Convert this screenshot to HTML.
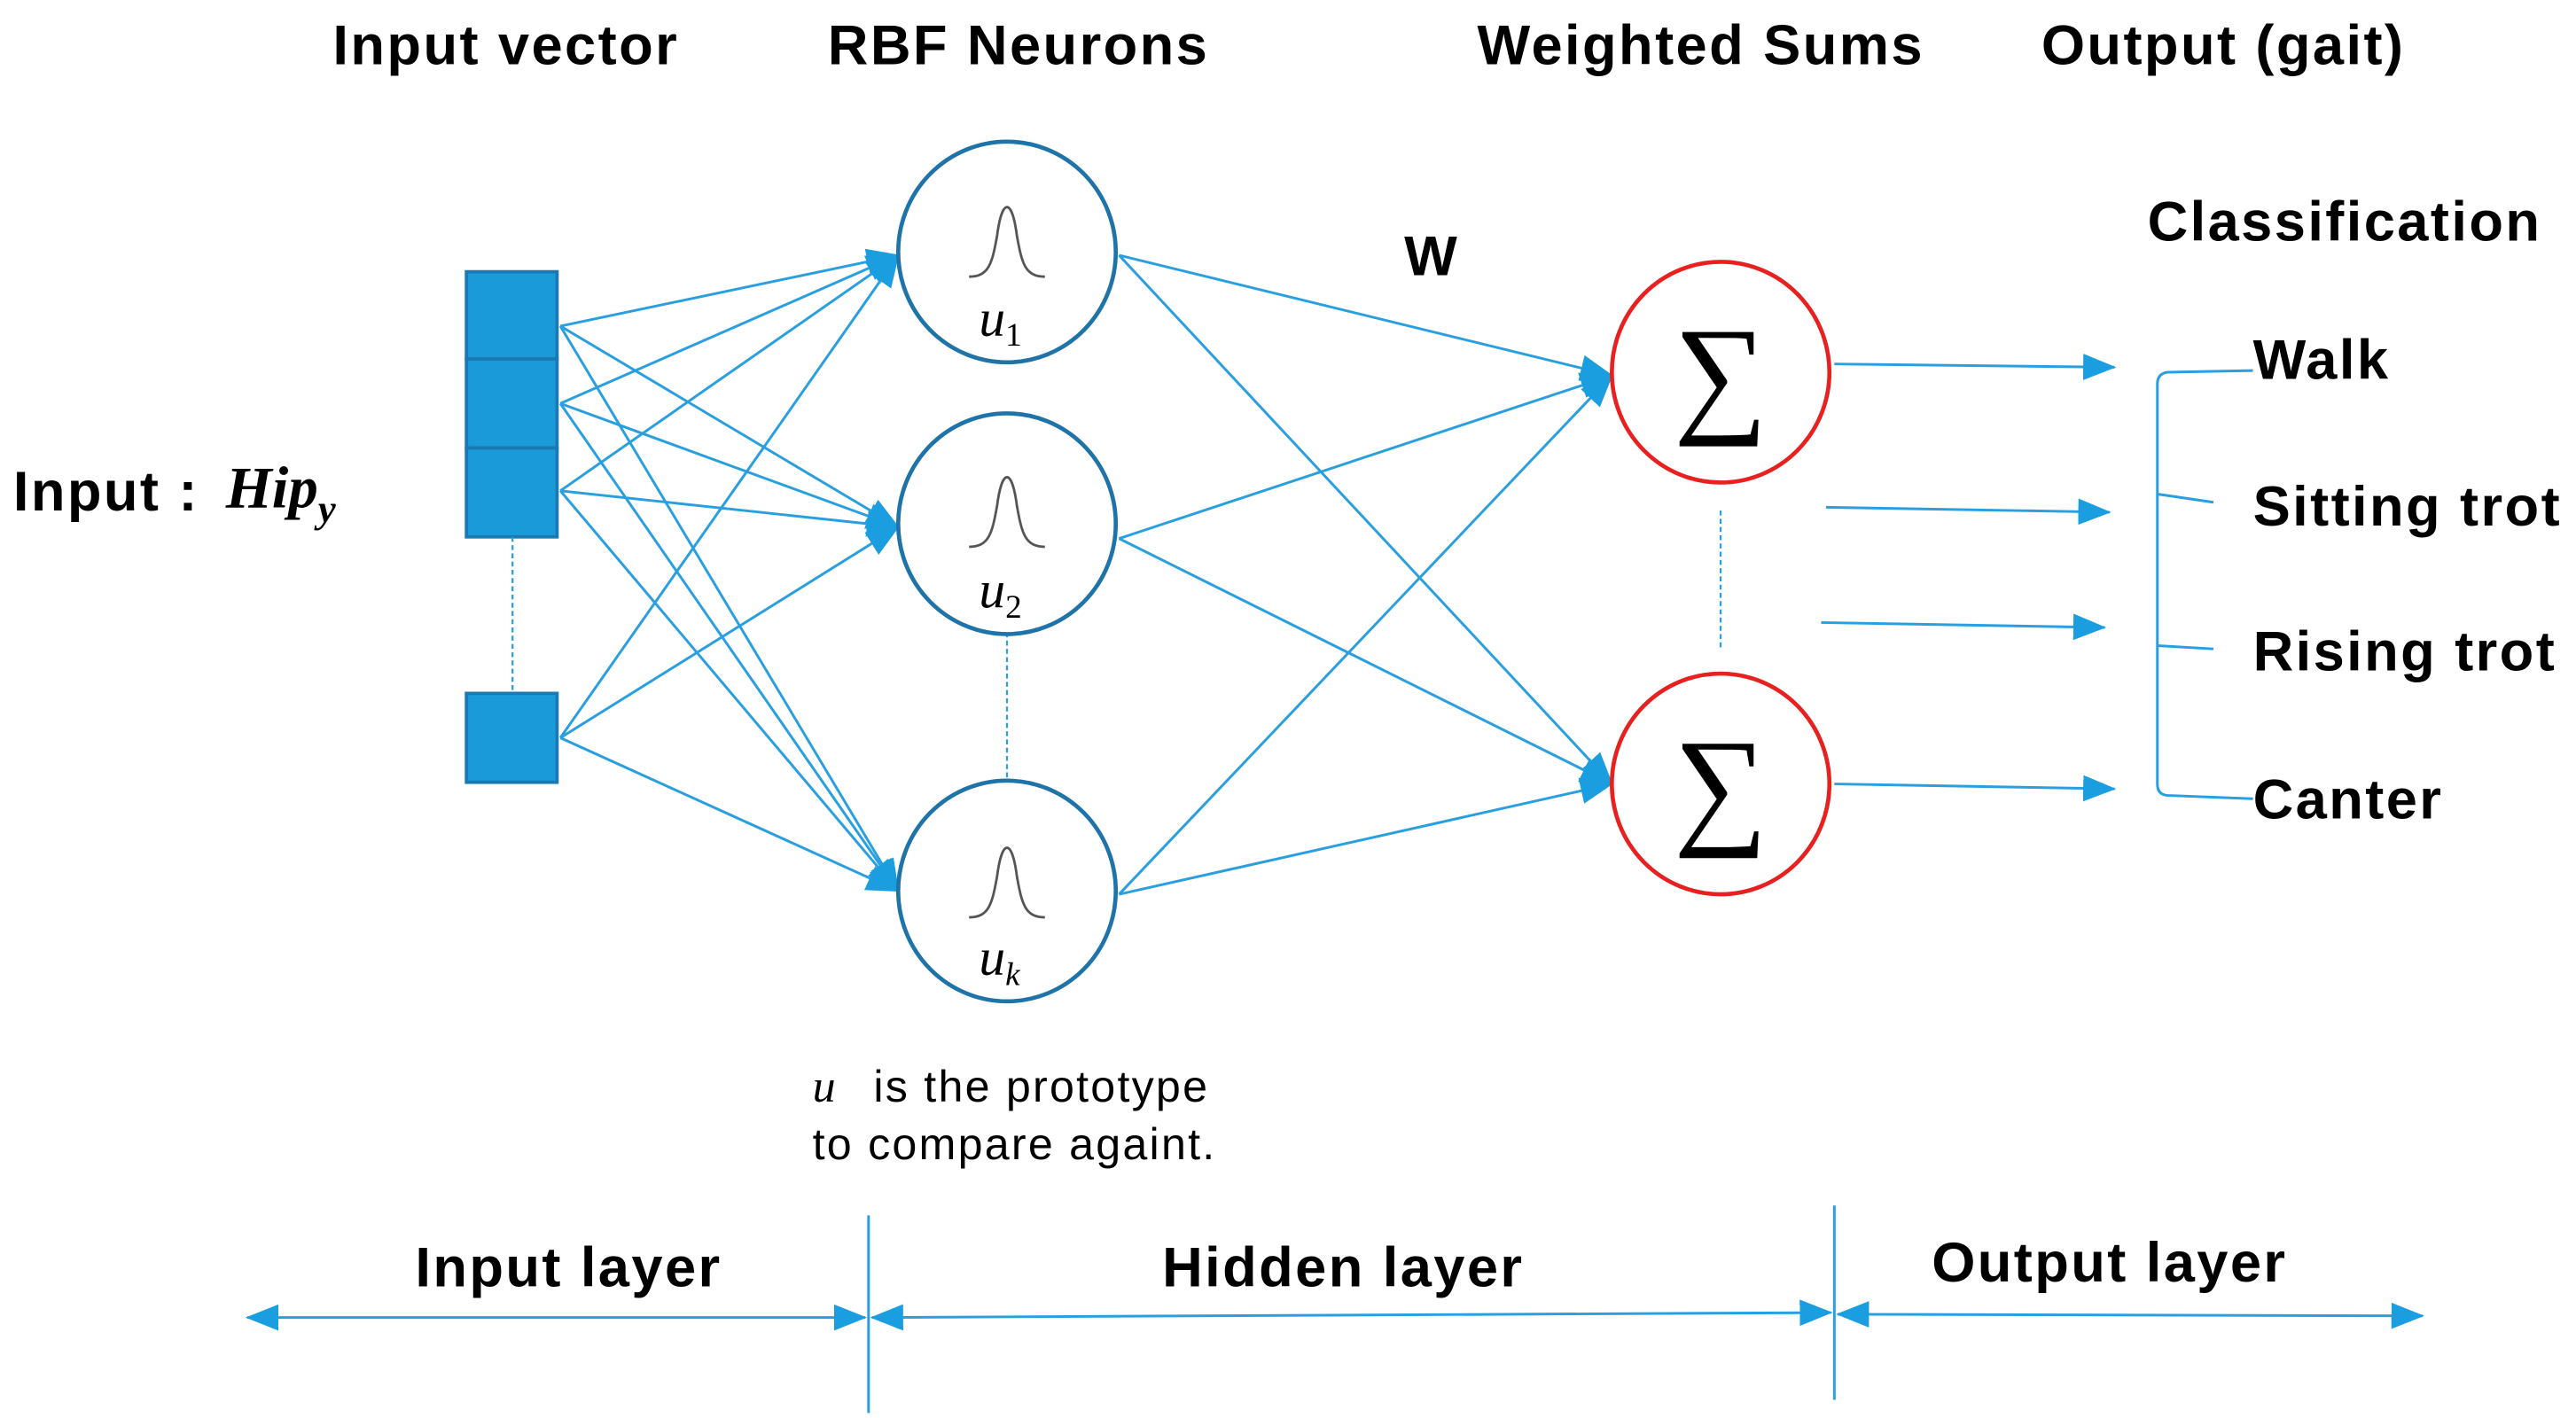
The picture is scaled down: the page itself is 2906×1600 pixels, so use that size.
<!DOCTYPE html>
<html><head><meta charset="utf-8"><style>
html,body{margin:0;padding:0;background:#fff;}
svg{display:block;}
.t{font-family:"Liberation Sans",sans-serif;font-weight:bold;font-size:34px;letter-spacing:1.3px;fill:#000;}
.m{font-family:"Liberation Serif",serif;font-style:italic;fill:#000;letter-spacing:0;}
.s{font-family:"Liberation Sans",sans-serif;font-size:27px;letter-spacing:1.2px;fill:#000;}
.l{stroke:#2a9fe0;stroke-width:1.6;fill:none;}
</style></head><body>
<svg width="2906" height="1600" viewBox="0 0 1563 861" preserveAspectRatio="none" xmlns="http://www.w3.org/2000/svg">
<defs>
<marker id="b" markerWidth="20" markerHeight="20" refX="19" refY="10" orient="auto" markerUnits="userSpaceOnUse" viewBox="0 0 20 20">
<path d="M0,2 L20,10 L0,18 z" fill="#1a9ee0"/></marker>
<marker id="bs" markerWidth="20" markerHeight="20" refX="1" refY="10" orient="auto" markerUnits="userSpaceOnUse" viewBox="0 0 20 20">
<path d="M20,2 L0,10 L20,18 z" fill="#1a9ee0"/></marker>
</defs>
<text class="t" x="307" y="39" text-anchor="middle">Input vector</text>
<text class="t" x="618" y="39" text-anchor="middle">RBF Neurons</text>
<text class="t" x="1032" y="39" text-anchor="middle">Weighted Sums</text>
<text class="t" x="1349" y="39" text-anchor="middle">Output (gait)</text>
<text class="t" x="8" y="310">Input :</text>
<text class="m" x="137" y="308" font-size="36" font-weight="bold">Hip<tspan font-size="24" dy="9">y</tspan></text>
<text class="t" x="852" y="167">W</text>
<text class="t" x="1303" y="146">Classification</text>
<text class="t" x="1367" y="230">Walk</text>
<text class="t" x="1367" y="319">Sitting trot</text>
<text class="t" x="1367" y="407">Rising trot</text>
<text class="t" x="1367" y="497">Canter</text>
<g fill="#1a9ad8" stroke="#1c78b0" stroke-width="2">
<rect x="283" y="165" width="55" height="53"/><rect x="283" y="218" width="55" height="54"/><rect x="283" y="272" width="55" height="54"/>
<rect x="283" y="421" width="55" height="54"/></g>
<g stroke="#2a9fe0" stroke-width="1.2" stroke-dasharray="3,2">
<line x1="311" y1="326" x2="311" y2="421"/><line x1="611" y1="384" x2="611" y2="475"/><line x1="1044" y1="310" x2="1044" y2="395"/></g>
<g class="l" marker-end="url(#b)">
<line x1="340" y1="198" x2="545" y2="155"/><line x1="340" y1="198" x2="545" y2="320"/><line x1="340" y1="198" x2="545" y2="541"/>
<line x1="340" y1="245" x2="545" y2="155"/><line x1="340" y1="245" x2="545" y2="320"/><line x1="340" y1="245" x2="545" y2="541"/>
<line x1="340" y1="298" x2="545" y2="155"/><line x1="340" y1="298" x2="545" y2="320"/><line x1="340" y1="298" x2="545" y2="541"/>
<line x1="340" y1="448" x2="545" y2="155"/><line x1="340" y1="448" x2="545" y2="320"/><line x1="340" y1="448" x2="545" y2="541"/>
</g>
<g class="l" marker-end="url(#b)">
<line x1="679" y1="155" x2="978" y2="228"/><line x1="679" y1="155" x2="978" y2="476"/>
<line x1="679" y1="327" x2="978" y2="228"/><line x1="679" y1="327" x2="978" y2="476"/>
<line x1="679" y1="543" x2="978" y2="228"/><line x1="679" y1="543" x2="978" y2="476"/>
<line x1="1113" y1="221" x2="1283" y2="223"/><line x1="1108" y1="308" x2="1280" y2="311"/>
<line x1="1105" y1="378" x2="1277" y2="381"/><line x1="1113" y1="476" x2="1283" y2="479"/>
</g>
<g fill="#fff" stroke="#1e73a8" stroke-width="2.5">
<ellipse cx="611" cy="153" rx="66" ry="67"/><ellipse cx="611" cy="318" rx="66" ry="67"/><ellipse cx="611" cy="541" rx="66" ry="67"/></g>
<g fill="none" stroke="#555" stroke-width="1.5">
<path id="g" d="M588,168 C600,168 602,160 605,143 C608,120 614,120 617,143 C620,160 622,168 634,168"/>
<path d="M588,168 C600,168 602,160 605,143 C608,120 614,120 617,143 C620,160 622,168 634,168" transform="translate(0,164)"/>
<path d="M588,168 C600,168 602,160 605,143 C608,120 614,120 617,143 C620,160 622,168 634,168" transform="translate(0,389)"/>
</g>
<text class="m" x="594" y="204" font-size="32">u<tspan font-size="20" font-style="normal" dy="6">1</tspan></text>
<text class="m" x="594" y="369" font-size="32">u<tspan font-size="20" font-style="normal" dy="6">2</tspan></text>
<text class="m" x="594" y="592" font-size="32">u<tspan font-size="20" dy="6">k</tspan></text>
<g fill="#fff" stroke="#e82020" stroke-width="2.5">
<ellipse cx="1044" cy="226" rx="66" ry="67"/><ellipse cx="1044" cy="476" rx="66" ry="67"/></g>
<text x="1044" y="254" text-anchor="middle" font-family="Liberation Serif,serif" font-size="80">∑</text>
<text x="1044" y="504" text-anchor="middle" font-family="Liberation Serif,serif" font-size="80">∑</text>
<path class="l" d="M1367,225 L1315,226 Q1309,227 1309,233 L1309,476 Q1309,483 1316,483 L1367,485"/>
<line class="l" x1="1309" y1="300" x2="1343" y2="305"/><line class="l" x1="1309" y1="392" x2="1343" y2="394"/>
<text class="m" x="493" y="669" font-size="28">u</text>
<text class="s" x="530" y="669">is the prototype</text>
<text class="s" x="493" y="704">to compare againt.</text>
<line class="l" x1="527" y1="738" x2="527" y2="858"/><line class="l" x1="1113" y1="732" x2="1113" y2="850"/>
<g class="l" stroke-width="2">
<line x1="150" y1="800" x2="525" y2="800" marker-start="url(#bs)" marker-end="url(#b)"/>
<line x1="529" y1="800" x2="1111" y2="797" marker-start="url(#bs)" marker-end="url(#b)"/>
<line x1="1115" y1="798" x2="1470" y2="799" marker-start="url(#bs)" marker-end="url(#b)"/>
</g>
<text class="t" x="345" y="781" text-anchor="middle">Input layer</text>
<text class="t" x="815" y="781" text-anchor="middle">Hidden layer</text>
<text class="t" x="1280" y="778" text-anchor="middle">Output layer</text>
</svg>
</body></html>
